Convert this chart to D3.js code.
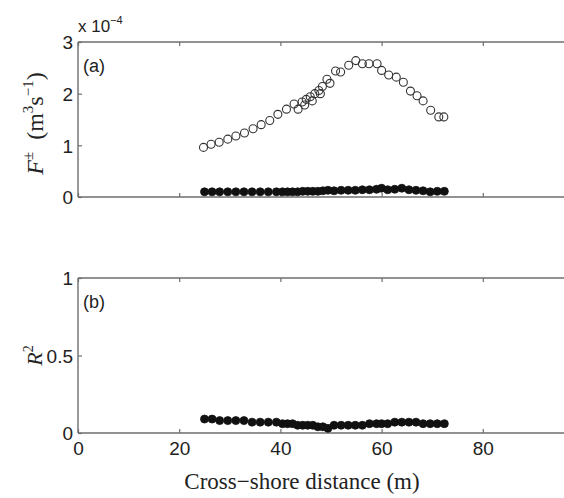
<!DOCTYPE html>
<html>
<head>
<meta charset="utf-8">
<script src="https://cdn.jsdelivr.net/npm/d3@7"></script>
<style>
  body { margin: 0; background: #fff; overflow: hidden; }
  svg { display: block; }
</style>
</head>
<body>
<div id="chart"></div>
<script>
// ---------------------------
// DATA
// ---------------------------
// panel (a): F+ (open circles), units of 1e-4 m^3/s
const openX = [24.8, 26.3, 27.9, 29.6, 31.2, 32.9, 34.6, 36.2, 37.9, 39.5, 41.2, 42.7, 43.5, 44.3, 45.1, 45.9,
  46.8, 47.6, 48.3, 49.2, 50.9, 51.9, 53.5, 54.9, 56.2, 57.5, 59.1, 60.0, 61.4, 62.9, 64.3, 65.7, 67.0, 68.2,
  69.7, 71.3, 72.3, 44.8, 46.3, 47.9, 49.8];
const openY = [0.96, 1.02, 1.06, 1.12, 1.18, 1.24, 1.32, 1.40, 1.48, 1.60, 1.70, 1.80, 1.70, 1.84, 1.89, 1.94,
  2.00, 2.06, 2.14, 2.28, 2.44, 2.42, 2.55, 2.64, 2.58, 2.58, 2.58, 2.45, 2.36, 2.32, 2.22, 2.05, 1.96, 1.86,
  1.68, 1.55, 1.55, 1.78, 1.86, 2.00, 2.20];

// panel (a): F- (filled circles)
const fillX = [25.0, 26.5, 28.0, 29.6, 31.2, 32.8, 34.4, 36.0, 37.6, 39.2, 40.4, 41.4, 42.4, 43.4, 44.4, 45.4,
  46.4, 47.4, 48.4, 49.4, 50.6, 52.0, 53.4, 54.8, 56.2, 57.6, 59.0, 60.0, 61.2, 62.6, 64.0, 65.4, 66.8, 68.2,
  69.6, 71.0, 72.4];
const fillY = [0.10, 0.10, 0.10, 0.10, 0.10, 0.10, 0.10, 0.10, 0.10, 0.10, 0.10, 0.10, 0.10, 0.10, 0.11, 0.11,
  0.11, 0.11, 0.12, 0.13, 0.12, 0.13, 0.13, 0.13, 0.14, 0.14, 0.15, 0.17, 0.14, 0.15, 0.17, 0.14, 0.13, 0.12,
  0.10, 0.11, 0.11];

// panel (b): R^2
const r2X = [25.0, 26.5, 28.0, 29.6, 31.2, 32.8, 34.4, 36.0, 37.6, 39.2, 40.4, 41.4, 42.4, 43.4, 44.4, 45.4,
  46.4, 47.4, 48.4, 49.4, 50.6, 52.0, 53.4, 54.8, 56.2, 57.6, 59.0, 60.0, 61.2, 62.6, 64.0, 65.4, 66.8, 68.2,
  69.6, 71.0, 72.4];
const r2Y = [0.09, 0.09, 0.08, 0.08, 0.08, 0.08, 0.07, 0.07, 0.07, 0.07, 0.06, 0.06, 0.06, 0.05, 0.05, 0.05,
  0.05, 0.04, 0.04, 0.03, 0.05, 0.05, 0.05, 0.05, 0.05, 0.06, 0.06, 0.06, 0.06, 0.07, 0.07, 0.07, 0.07, 0.06,
  0.06, 0.06, 0.06];

const xTicks = [0, 20, 40, 60, 80];
const yTicksA = [0, 1, 2, 3];
const yTicksB = [0, 0.5, 1];

// ---------------------------
// LAYOUT
// ---------------------------
const width = 564, height = 498;
const axisColor = "#6e6e6e";
const textColor = "#222";
const sans = "Liberation Sans, Arial, sans-serif";
const serif = "Liberation Serif, Times New Roman, serif";

const svg = d3.select("#chart").append("svg")
  .attr("width", width)
  .attr("height", height);

// x extends past the right edge (figure is cropped)
const x = d3.scaleLinear().domain([0, 100]).range([78, 584]);

const panels = [
  { top: 42, bottom: 197, domain: [0, 3], ticks: yTicksA, label: "(a)" },
  { top: 278, bottom: 433, domain: [0, 1], ticks: yTicksB, label: "(b)" }
];

panels.forEach(p => {
  p.y = d3.scaleLinear().domain(p.domain).range([p.bottom, p.top]);
});

// ---------------------------
// AXES (MATLAB-style box, ticks inward, right side cropped)
// ---------------------------
panels.forEach((p, i) => {
  const g = svg.append("g");

  // box lines: top, bottom, left
  [[x(0), p.top, width, p.top], [x(0), p.bottom, width, p.bottom], [x(0), p.top, x(0), p.bottom]]
    .forEach(l => {
      g.append("line")
        .attr("x1", l[0]).attr("y1", l[1]).attr("x2", l[2]).attr("y2", l[3])
        .attr("stroke", axisColor).attr("stroke-width", 1.4);
    });

  // x ticks top & bottom (inward)
  const bottomAxis = d3.axisBottom(x).tickValues(xTicks).tickSizeInner(-4).tickSizeOuter(0)
    .tickFormat(i === 1 ? d3.format("d") : "");
  const gb = g.append("g").attr("transform", `translate(0,${p.bottom})`).call(bottomAxis);
  const topAxis = d3.axisTop(x).tickValues(xTicks).tickSizeInner(-4).tickSizeOuter(0).tickFormat("");
  const gt = g.append("g").attr("transform", `translate(0,${p.top})`).call(topAxis);

  // y ticks (inward)
  const leftAxis = d3.axisLeft(p.y).tickValues(p.ticks).tickSizeInner(-4).tickSizeOuter(0)
    .tickFormat(d => String(d));
  const gl = g.append("g").attr("transform", `translate(${x(0)},0)`).call(leftAxis);

  [gb, gt, gl].forEach(a => {
    a.select(".domain").remove();
    a.selectAll(".tick line").attr("stroke", axisColor).attr("stroke-width", 1.2);
    a.selectAll(".tick text")
      .attr("fill", textColor)
      .style("font-family", sans)
      .style("font-size", "19px");
  });
  gl.selectAll(".tick text").attr("x", -5).attr("dy", "0.36em");
  gb.selectAll(".tick text").attr("y", 7).attr("dy", "0.8em");

  // panel label
  g.append("text")
    .attr("x", x(0) + 5).attr("y", p.top + 30)
    .attr("fill", textColor)
    .style("font-family", sans)
    .style("font-size", "18px")
    .text(p.label);
});

// ---------------------------
// MARKERS
// ---------------------------
const pa = panels[0], pb = panels[1];

svg.append("g").selectAll("circle")
  .data(d3.zip(fillX, fillY))
  .join("circle")
  .attr("cx", d => x(d[0])).attr("cy", d => pa.y(d[1]))
  .attr("r", 4).attr("fill", "#111").attr("stroke", "#111").attr("stroke-width", 0.8);

svg.append("g").selectAll("circle")
  .data(d3.zip(openX, openY))
  .join("circle")
  .attr("cx", d => x(d[0])).attr("cy", d => pa.y(d[1]))
  .attr("r", 4).attr("fill", "none").attr("stroke", "#333").attr("stroke-width", 1.1);

svg.append("g").selectAll("circle")
  .data(d3.zip(r2X, r2Y))
  .join("circle")
  .attr("cx", d => x(d[0])).attr("cy", d => pb.y(d[1]))
  .attr("r", 4).attr("fill", "#111").attr("stroke", "#111").attr("stroke-width", 0.8);

// ---------------------------
// LABELS
// ---------------------------
// exponent multiplier
const mult = svg.append("text")
  .attr("x", x(0)).attr("y", 32)
  .attr("fill", textColor)
  .style("font-family", sans)
  .style("font-size", "17px");
mult.append("tspan").text("x 10");
mult.append("tspan").attr("dy", -8).style("font-size", "11px").text("\u22124");

// y label (a)
const yla = svg.append("text")
  .attr("transform", `translate(43,${(pa.top + pa.bottom) / 2 + 4}) rotate(-90)`)
  .attr("text-anchor", "middle")
  .attr("fill", textColor)
  .style("font-family", serif)
  .style("font-size", "24px");
yla.append("tspan").style("font-style", "italic").text("F");
yla.append("tspan").attr("dy", -10).style("font-size", "15px").text("\u00b1");
yla.append("tspan").attr("dy", 10).text("\u2002(m");
yla.append("tspan").attr("dy", -10).style("font-size", "15px").text("3");
yla.append("tspan").attr("dy", 10).text("s");
yla.append("tspan").attr("dy", -10).style("font-size", "15px").text("\u22121");
yla.append("tspan").attr("dy", 10).text(")");

// y label (b)
const ylb = svg.append("text")
  .attr("transform", `translate(42,${(pb.top + pb.bottom) / 2}) rotate(-90)`)
  .attr("text-anchor", "middle")
  .attr("fill", textColor)
  .style("font-family", serif)
  .style("font-size", "22px");
ylb.append("tspan").style("font-style", "italic").text("R");
ylb.append("tspan").attr("dy", -9).style("font-size", "14px").text("2");

// x label
svg.append("text")
  .attr("x", 302).attr("y", 489)
  .attr("text-anchor", "middle")
  .attr("fill", textColor)
  .style("font-family", serif)
  .style("font-size", "23px")
  .text("Cross\u2212shore distance (m)");
</script>
</body>
</html>
